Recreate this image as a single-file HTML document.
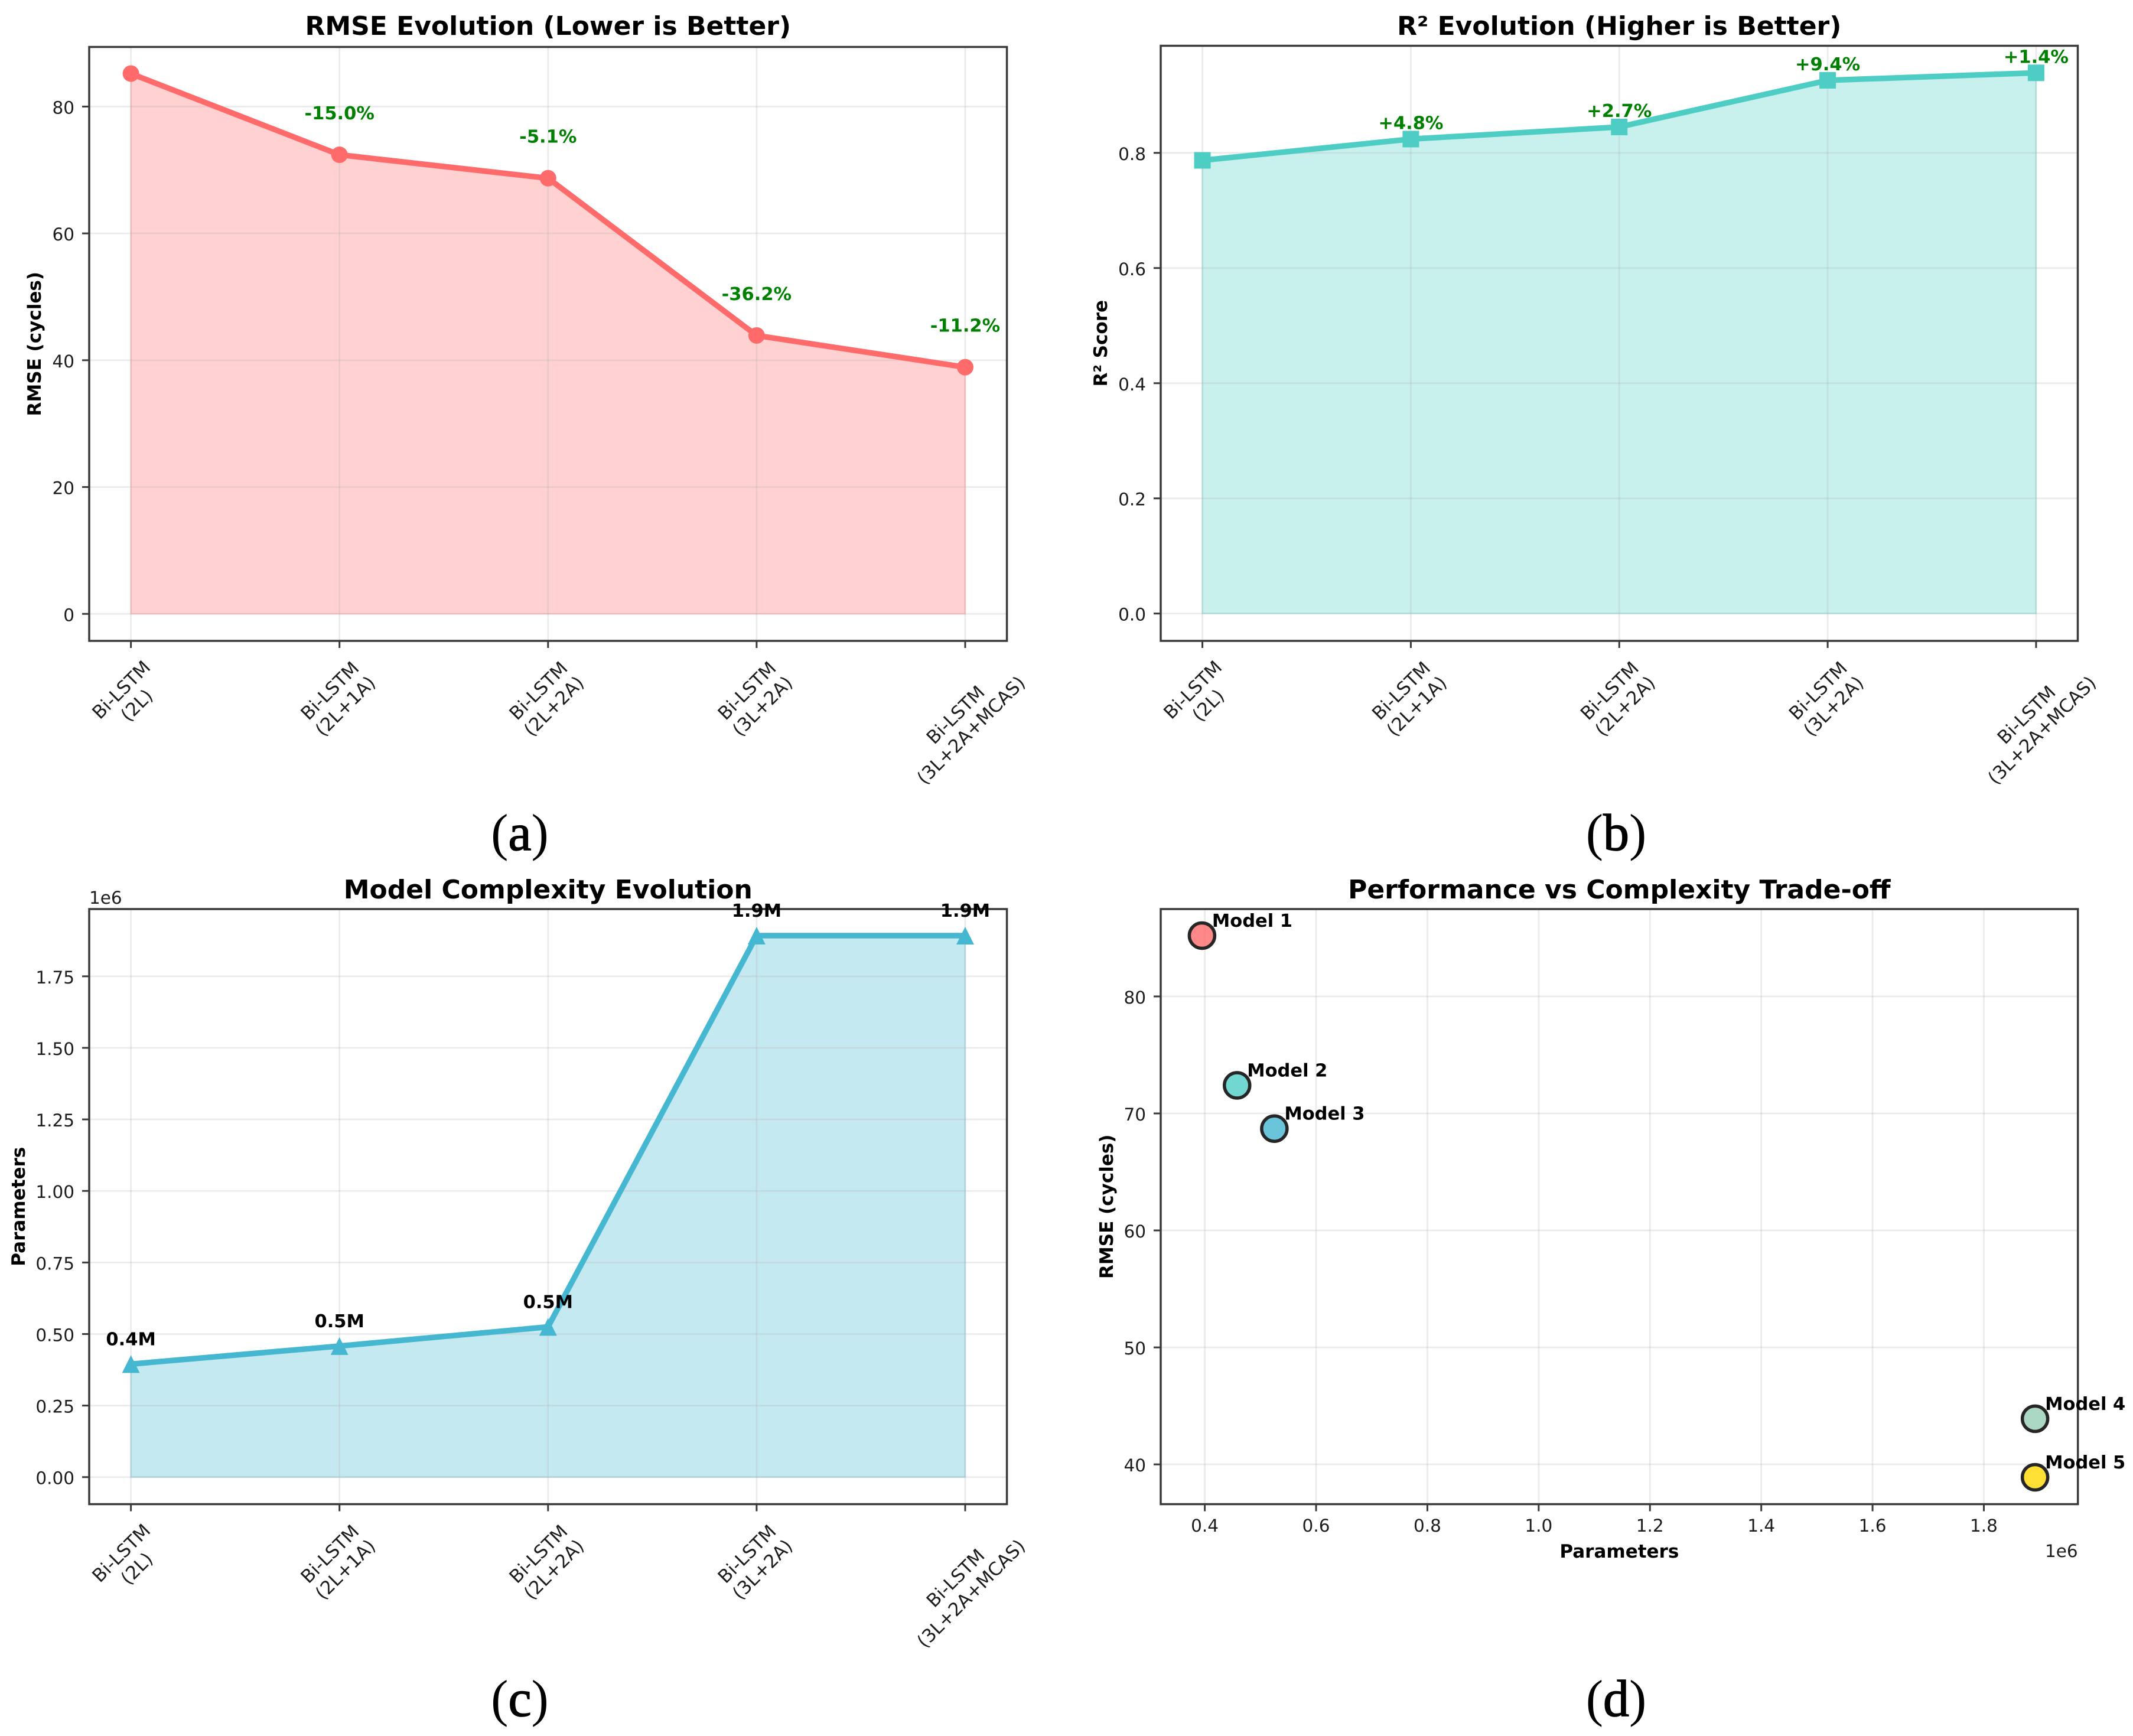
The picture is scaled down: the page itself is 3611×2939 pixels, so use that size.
<!DOCTYPE html>
<html lang="en">
<head>
<meta charset="utf-8">
<title>Model evolution charts</title>
<style>
html,body{margin:0;padding:0;background:#fff;}
svg{display:block;}
text{font-family:"DejaVu Sans","Liberation Sans",sans-serif;}
</style>
</head>
<body>
<svg id="figure" xmlns="http://www.w3.org/2000/svg" width="3611" height="2939" viewBox="0 0 3611 2939">
<rect x="0" y="0" width="3611" height="2939" fill="#ffffff"/>
</svg>
<script>
// ---- data arrays ----
const categories = [["Bi-LSTM","(2L)"],["Bi-LSTM","(2L+1A)"],["Bi-LSTM","(2L+2A)"],["Bi-LSTM","(3L+2A)"],["Bi-LSTM","(3L+2A+MCAS)"]];
const rmseValues = [85.2,72.4,68.7,43.9,38.9];
const rmseChanges = ["","-15.0%","-5.1%","-36.2%","-11.2%"];
const rmseTicks = [0,20,40,60,80];
const r2Values = [0.787,0.824,0.845,0.926,0.939];
const r2Changes = ["","+4.8%","+2.7%","+9.4%","+1.4%"];
const r2Ticks = ["0.0","0.2","0.4","0.6","0.8"];
const paramValues = [395000,458000,525000,1892000,1892000];
const paramLabels = ["0.4M","0.5M","0.5M","1.9M","1.9M"];
const paramTicks = ["0.00","0.25","0.50","0.75","1.00","1.25","1.50","1.75"];
const modelNames = ["Model 1","Model 2","Model 3","Model 4","Model 5"];
const modelColors = ["#FF6B6B","#4ECDC4","#45B7D1","#96CEB4","#FFD700"];
const scatterXTicks = ["0.4","0.6","0.8","1.0","1.2","1.4","1.6","1.8"];
const scatterYTicks = [40,50,60,70,80];

// ---- helpers ----
const NS = "http://www.w3.org/2000/svg";
const svg = document.getElementById("figure");
function mk(tag, attrs, parent, txt){
  const el = document.createElementNS(NS, tag);
  for (const k in attrs) el.setAttribute(k, attrs[k]);
  if (txt !== undefined) el.textContent = txt;
  parent.appendChild(el);
  return el;
}
function linear(d0, d1, r0, r1){
  return function(v){ return r0 + (v - d0) * (r1 - r0) / (d1 - d0); };
}
const INK = "#1c1c1c", SPINE = "#3a3a3a", GRID = "rgba(176,176,176,0.26)";
const TICK_FS = 29.5, CAT_FS = 31, LABEL_FS = 31, TITLE_FS = 44, NOTE_FS = 30.5;

function drawFrame(g, box, xs, ys, title, titleY, ylabel, ylabelX, prefix){
  // grid and ticks
  xs.forEach(function(t){
    const gl = mk("line",{x1:t.x,x2:t.x,y1:box.top,y2:box.bottom,stroke:GRID,"stroke-width":2.8},g.grid);
    
    
    const tk = mk("line",{x1:t.x,x2:t.x,y1:box.bottom,y2:box.bottom+12,stroke:SPINE,"stroke-width":3},g.front);
    
    
  });
  ys.forEach(function(t){
    const gl = mk("line",{x1:box.left,x2:box.right,y1:t.y,y2:t.y,stroke:GRID,"stroke-width":2.8},g.grid);
    
    
    const tk = mk("line",{x1:box.left-12,x2:box.left,y1:t.y,y2:t.y,stroke:SPINE,"stroke-width":3},g.front);
    
    
    const lb = mk("text",{x:box.left-25,y:t.y+12,"text-anchor":"end","font-size":TICK_FS,fill:INK},g.front,t.label);
    
    
  });
  const sp = mk("rect",{x:box.left,y:box.top,width:box.right-box.left,height:box.bottom-box.top,fill:"none",stroke:SPINE,"stroke-width":3.5},g.front);
  
  
  const tt = mk("text",{x:(box.left+box.right)/2,y:titleY,"text-anchor":"middle","font-size":TITLE_FS,"font-weight":"bold",fill:"#000"},g.front,title);
  
  
  const cy = (box.top+box.bottom)/2;
  const yl = mk("text",{x:0,y:0,transform:"translate("+(ylabelX+11)+" "+cy+") rotate(-90)","text-anchor":"middle","font-size":LABEL_FS,"font-weight":"bold",fill:"#000"},g.front,ylabel);
  
  
}

function drawCategoryLabels(parent, xScale, bottom, prefix){
  categories.forEach(function(lines, i){
    const grp = mk("g",{},parent);
    
    
    const a = mk("text",{x:0,y:-11,"text-anchor":"middle","font-size":CAT_FS,fill:INK},grp,lines[0]);
    const b = mk("text",{x:0,y:26,"text-anchor":"middle","font-size":CAT_FS,fill:INK},grp,lines[1]);
    const w = Math.max(a.getComputedTextLength(), b.getComputedTextLength());
    const cy = bottom + 29 + (w + 72) * 0.7071 / 2;
    grp.setAttribute("transform","translate("+(xScale(i)-1)+" "+cy+") rotate(-45)");
  });
}

function drawAreaPanel(opt){
  const root = mk("g",{},svg);
  
  
  const layers = {area:mk("g",{},root),grid:mk("g",{},root),marks:mk("g",{},root),front:mk("g",{},root)};
  const box = opt.box;
  const x = linear(-0.2,4.2,box.left,box.right);
  const y = linear(opt.ylim[0],opt.ylim[1],box.bottom,box.top);
  const vals = opt.values;
  const pts = vals.map(function(v,i){ return x(i)+","+y(v); });
  const area = mk("polygon",{points:x(0)+","+y(0)+" "+pts.join(" ")+" "+x(vals.length-1)+","+y(0),fill:opt.color,"fill-opacity":0.31,stroke:opt.color,"stroke-opacity":0.3,"stroke-width":2.5},layers.area);
  
  
  const xt = vals.map(function(v,i){ return {x:x(i)}; });
  const yt = opt.ticks.map(function(t){ return {y:y(parseFloat(t)*opt.tickScale),label:t}; });
  drawFrame(layers,box,xt,yt,opt.title,opt.titleY,opt.ylabel,opt.ylabelX,opt.prefix);
  drawCategoryLabels(layers.front,x,box.bottom,opt.prefix);
  const ln = mk("polyline",{points:pts.join(" "),fill:"none",stroke:opt.color,"stroke-width":9.5,"stroke-linejoin":"round"},layers.marks);
  
  
  vals.forEach(function(v,i){
    const px = x(i), py = y(v);
    let m;
    if (opt.marker === "circle") {
      m = mk("circle",{cx:px,cy:py,r:14,fill:opt.color},layers.marks);
    } else if (opt.marker === "square") {
      m = mk("rect",{x:px-14,y:py-14,width:28,height:28,fill:opt.color},layers.marks);
    } else {
      m = mk("polygon",{points:px+","+(py-15)+" "+(px+15)+","+(py+15)+" "+(px-15)+","+(py+15),fill:opt.color},layers.marks);
    }
    
    
    if (opt.notes[i]) {
      const n = mk("text",{x:px,y:py+opt.noteDy,"text-anchor":"middle","font-size":NOTE_FS,"font-weight":"bold",fill:opt.noteColor},layers.front,opt.notes[i]);
      
      
    }
  });
}

// ---- panel a ----
drawAreaPanel({prefix:"rmse",box:{left:151,right:1704.6,top:79.5,bottom:1085},ylim:[-4.26,89.4],values:rmseValues,ticks:rmseTicks.map(String),tickScale:1,color:"#FF6B6B",marker:"circle",title:"RMSE Evolution (Lower is Better)",titleY:59,ylabel:"RMSE (cycles)",ylabelX:58,notes:rmseChanges,noteDy:-60,noteColor:"#008000"});
// ---- panel b ----
drawAreaPanel({prefix:"r2",box:{left:1965,right:3517.5,top:77.5,bottom:1085},ylim:[-0.0475,0.986],values:r2Values,ticks:r2Ticks,tickScale:1,color:"#4ECDC4",marker:"square",title:"R\u00B2 Evolution (Higher is Better)",titleY:59,ylabel:"R\u00B2 Score",ylabelX:1863,notes:r2Changes,noteDy:-17,noteColor:"#008000"});
// ---- panel c ----
drawAreaPanel({prefix:"complexity",box:{left:151,right:1704.6,top:1539,bottom:2546.5},ylim:[-94500,1985000],values:paramValues,ticks:paramTicks,tickScale:1000000,color:"#45B7D1",marker:"triangle",title:"Model Complexity Evolution",titleY:1521,ylabel:"Parameters",ylabelX:31,notes:paramLabels,noteDy:-32,noteColor:"#000000"});
const offsetC = mk("text",{x:151,y:1530,"font-size":TICK_FS,fill:INK},svg,"1e6");



// ---- panel d ----
(function(){
  const root = mk("g",{},svg);
  
  
  const layers = {grid:mk("g",{},root),marks:mk("g",{},root),front:mk("g",{},root)};
  const box = {left:1965,right:3517.7,top:1539,bottom:2546.5};
  const x = linear(320800,1969000,box.left,box.right);
  const y = linear(36.6,87.47,box.bottom,box.top);
  const xt = scatterXTicks.map(function(t){ return {x:x(parseFloat(t)*1000000),label:t}; });
  const yt = scatterYTicks.map(function(t){ return {y:y(t),label:String(t)}; });
  drawFrame(layers,box,xt,yt,"Performance vs Complexity Trade-off",1521,"RMSE (cycles)",1873,"tradeoff");
  xt.forEach(function(t){
    const lb = mk("text",{x:t.x,y:2593,"text-anchor":"middle","font-size":TICK_FS,fill:INK},layers.front,t.label);
    
    
  });
  const xl = mk("text",{x:(box.left+box.right)/2,y:2637,"text-anchor":"middle","font-size":LABEL_FS,"font-weight":"bold",fill:"#000"},layers.front,"Parameters");
  
  
  const off = mk("text",{x:box.right,y:2636,"text-anchor":"end","font-size":TICK_FS,fill:INK},layers.front,"1e6");
  
  
  paramValues.forEach(function(p,i){
    const cx = x(p), cy = y(rmseValues[i]);
    const c = mk("circle",{cx:cx,cy:cy,r:21.5,fill:modelColors[i],"fill-opacity":0.8,stroke:"#262626","stroke-width":5.5},layers.marks);
    
    
    const t = mk("text",{x:cx+17,y:cy-15,"font-size":NOTE_FS,"font-weight":"bold",fill:"#000"},layers.front,modelNames[i]);
    
    
  });
})();

// ---- subfigure captions ----
[["a",880,1439],["b",2736,1439],["c",880,2905],["d",2736,2905]].forEach(function(c){
  const t = mk("text",{x:c[1],y:c[2],"text-anchor":"middle","font-size":88,fill:"#000",style:'font-family:"Liberation Serif",serif'},svg);
  
  
  mk("tspan",{},t,"(");
  mk("tspan",{stroke:"#000","stroke-width":1.5},t,c[0]);
  mk("tspan",{},t,")");
});
</script>
</body>
</html>
